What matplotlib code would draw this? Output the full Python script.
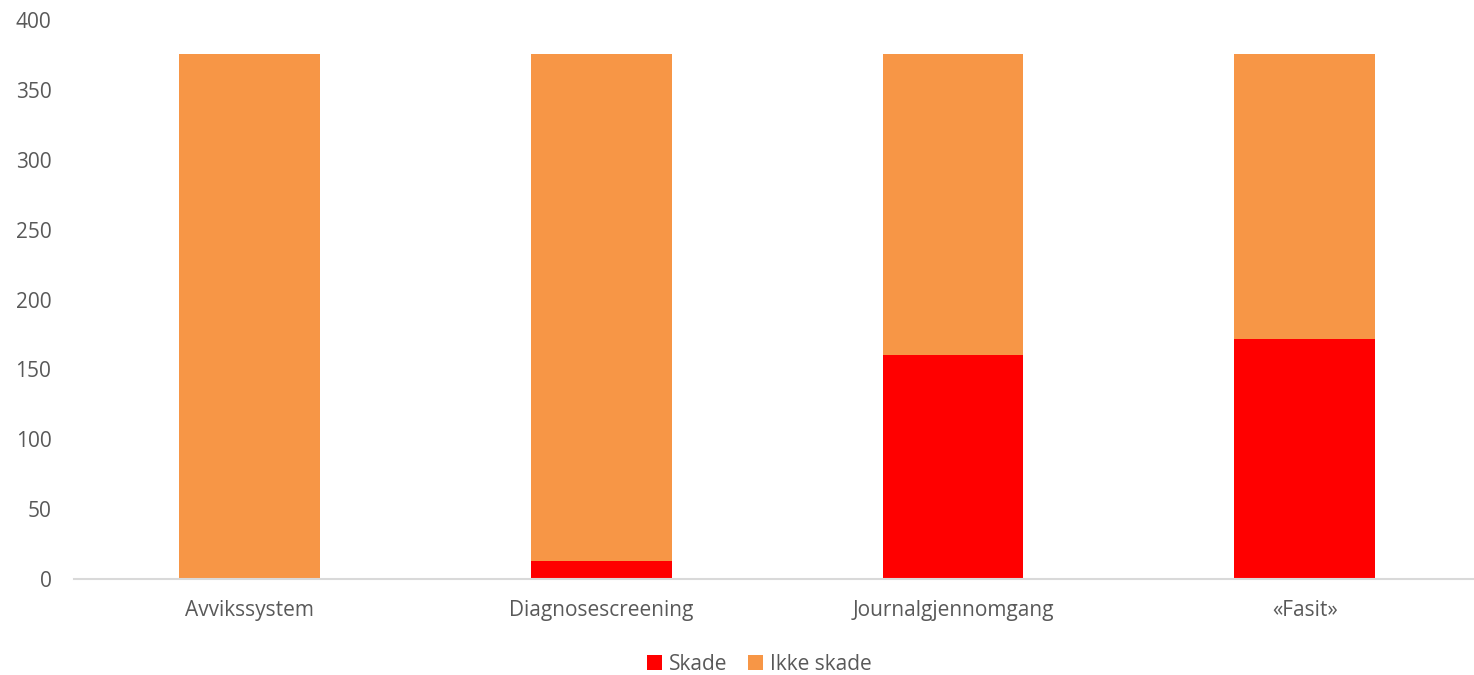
import matplotlib
matplotlib.use("Agg")
import matplotlib.pyplot as plt
import numpy as np

categories = ["Avvikssystem", "Diagnosescreening", "Journalgjennomgang", "«Fasit»"]
skade = [0, 13, 160, 172]
ikke_skade = [376, 363, 216, 204]
y_ticks = [0, 50, 100, 150, 200, 250, 300, 350, 400]

text_color = "#595959"
plt.rcParams["font.family"] = ["Open Sans", "DejaVu Sans"]

W, H = 1474, 675
fig = plt.figure(figsize=(W / 100, H / 100), dpi=100)
ax = fig.add_axes([73.6 / W, 96 / H, (1480.7 - 73.6) / W, 559 / H])

x = np.arange(len(categories))
width = 0.4
b1 = ax.bar(x, skade, width, color="#FF0000", label="Skade")
b2 = ax.bar(x, ikke_skade, width, bottom=skade, color="#F79646", label="Ikke skade")

ax.set_xlim(-0.5, len(categories) - 0.5)
ax.set_ylim(0, 400)
ax.set_yticks(y_ticks)
ax.set_xticks(x)
ax.set_xticklabels(categories)
ax.tick_params(axis="both", length=0, labelsize=15, colors=text_color)
ax.tick_params(axis="y", pad=16)
ax.tick_params(axis="x", pad=15)

for side in ["top", "right", "left"]:
    ax.spines[side].set_visible(False)
ax.spines["bottom"].set_color("#D9D9D9")
ax.spines["bottom"].set_linewidth(1.5)

leg = fig.legend(handles=[b1, b2], loc="center", bbox_to_anchor=(759 / W, 1 - 664 / H),
                 ncol=2, frameon=False, fontsize=15, handlelength=0.75, handleheight=0.75,
                 handletextpad=0.3, columnspacing=1.0, labelcolor=text_color)

fig.savefig("out.png", dpi=100)
